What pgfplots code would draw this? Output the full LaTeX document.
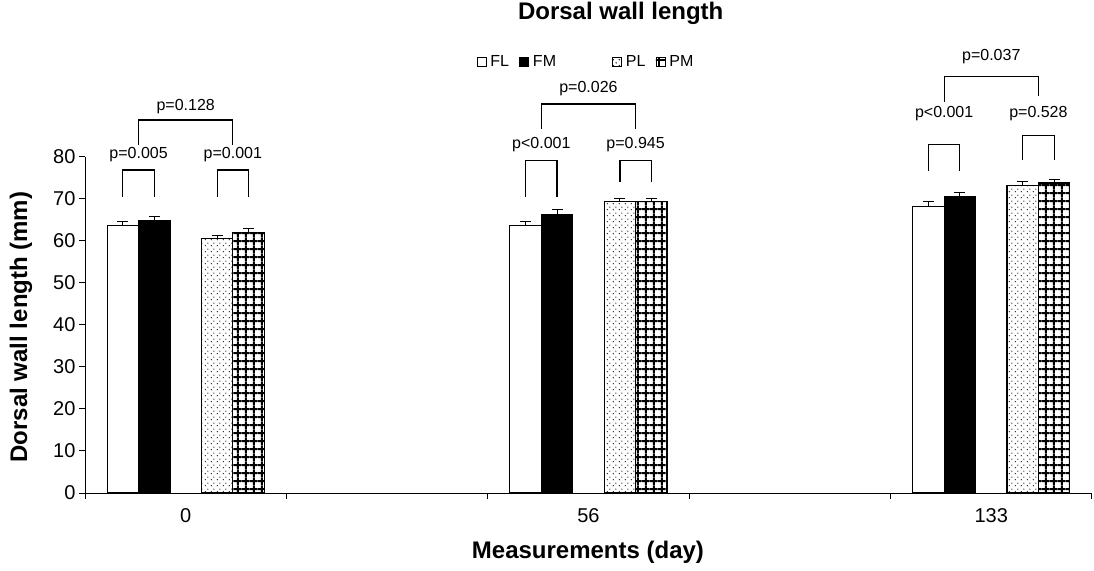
\documentclass[border=0pt]{standalone}
\usepackage{fontspec}
\setmainfont{Liberation Sans}
\usepackage{pgfplots}
\pgfplotsset{compat=1.18}
\usetikzlibrary{patterns}

\pgfdeclarepatternformonly{mydots}{\pgfpoint{0bp}{0bp}}{\pgfpoint{6bp}{6bp}}{\pgfpoint{6bp}{6bp}}{%
  \pgfpathcircle{\pgfpoint{1.5bp}{1.5bp}}{0.85bp}%
  \pgfpathcircle{\pgfpoint{4.5bp}{4.5bp}}{0.85bp}%
  \pgfusepath{fill}%
}
\pgfdeclarepatternformonly{mygrid}{\pgfpoint{0bp}{0bp}}{\pgfpoint{7.8bp}{7.8bp}}{\pgfpoint{7.8bp}{7.8bp}}{%
  \pgfsetlinewidth{2bp}%
  \pgfpathmoveto{\pgfpoint{0bp}{3.9bp}}\pgfpathlineto{\pgfpoint{7.8bp}{3.9bp}}%
  \pgfpathmoveto{\pgfpoint{3.9bp}{0bp}}\pgfpathlineto{\pgfpoint{3.9bp}{7.8bp}}%
  \pgfusepath{stroke}%
}

\newcommand\plab{\fontsize{16bp}{19bp}\selectfont}

\pgfplotsset{
  mybar/.style={ybar, bar width=0.156, bar shift=0, draw=black, line width=1.1bp,
    error bars/y dir=plus, error bars/y explicit,
    error bars/error mark=-,
    error bars/error bar style={line width=1.1bp, black},
    error bars/error mark options={rotate=90, line width=1.1bp, mark size=5.5bp, black}},
  mylegend/.style={legend image code/.code={\draw[##1, line width=0.9bp] (0bp,-4.5bp) rectangle (9bp,4.5bp);}},
}

\begin{document}
\begin{tikzpicture}
\useasboundingbox (0,0) rectangle (1094bp,571bp);
\begin{axis}[
  at={(85bp,78bp)}, anchor=south west,
  scale only axis, width=1007bp, height=336bp,
  xmin=-0.5, xmax=4.5, ymin=0, ymax=80,
  axis x line*=bottom, axis y line*=left,
  axis line style={line width=1bp, black},
  ytick={0,10,...,80},
  xtick={-0.5,0.5,1.5,2.5,3.5,4.5}, xticklabels={,,,,,},
  extra x ticks={0,2,4}, extra x tick labels={0,56,133},
  extra x tick style={major tick length=0pt, xticklabel style={yshift=-12bp}},
  tick align=outside, major tick length=6bp,
  tick style={line width=1bp, black},
  ticklabel style={font=\fontsize{20bp}{24bp}\selectfont},
  /pgf/number format/assume math mode=true,
  clip=false,
  title={Dorsal wall length},
  title style={at={(axis description cs:0.532,1.411)}, anchor=center, font=\bfseries\fontsize{24bp}{28bp}\selectfont},
  xlabel={Measurements (day)},
  xlabel style={at={(axis description cs:0.4995,-0.1756)}, anchor=center, font=\bfseries\fontsize{24bp}{28bp}\selectfont},
  ylabel={Dorsal wall length (mm)},
  ylabel style={at={(axis description cs:-0.0636,0.494)}, anchor=center, font=\bfseries\fontsize{24bp}{28bp}\selectfont},
  legend columns=4,
  legend style={at={(axis description cs:0.4975,1.283)}, anchor=center, draw=none, fill=none,
    font=\fontsize{16bp}{19bp}\selectfont,
    /tikz/every odd column/.append style={column sep=2bp},
    /tikz/every even column/.append style={column sep=8bp}},
]
\addplot[mybar, fill=white, mylegend] coordinates {
  (-0.312,63.6) +- (0,1.0)
  (1.688,63.6) +- (0,1.0)
  (3.688,68.3) +- (0,1.0)
};
\addlegendentry{FL}
\addplot[mybar, fill=black, mylegend] coordinates {
  (-0.156,64.8) +- (0,1.1)
  (1.844,66.4) +- (0,1.0)
  (3.844,70.5) +- (0,1.1)
};
\addlegendentry{FM\kern46bp}
\addplot[mybar, pattern=mydots, pattern color=black!85, mylegend] coordinates {
  (0.156,60.5) +- (0,0.8)
  (2.156,69.3) +- (0,0.9)
  (4.156,73.3) +- (0,0.9)
};
\addlegendentry{PL}
\addplot[mybar, pattern=mygrid, pattern color=black, mylegend] coordinates {
  (0.312,62.0) +- (0,0.9)
  (2.312,69.3) +- (0,0.9)
  (4.312,73.8) +- (0,0.9)
};
\addlegendentry{PM}

% group 0
\draw[line width=1.2bp] (axis cs:-0.312,70.5) |- (axis cs:-0.156,76.9) -- (axis cs:-0.156,70.5);
\draw[line width=1.2bp] (axis cs:0.156,70.5) |- (axis cs:0.312,76.9) -- (axis cs:0.312,70.5);
\draw[line width=1.2bp] (axis cs:-0.234,82.9) |- (axis cs:0.234,88.8) -- (axis cs:0.234,82.9);
\node[font=\plab] at (axis cs:-0.234,80.5) {p=0.005};
\node[font=\plab] at (axis cs:0.234,80.5) {p=0.001};
\node[font=\plab] at (axis cs:0,92.1) {p=0.128};
% group 56
\draw[line width=1.2bp] (axis cs:1.688,70.5) |- (axis cs:1.844,79.1) -- (axis cs:1.844,70.5);
\draw[line width=1.2bp] (axis cs:2.156,74.1) |- (axis cs:2.312,79.1) -- (axis cs:2.312,74.1);
\draw[line width=1.2bp] (axis cs:1.766,86.7) |- (axis cs:2.234,92.6) -- (axis cs:2.234,86.7);
\node[font=\plab] at (axis cs:1.766,82.9) {p<0.001};
\node[font=\plab] at (axis cs:2.234,82.9) {p=0.945};
\node[font=\plab] at (axis cs:2,96.4) {p=0.026};
% group 133
\draw[line width=1.2bp] (axis cs:3.688,76.7) |- (axis cs:3.844,82.9) -- (axis cs:3.844,76.7);
\draw[line width=1.2bp] (axis cs:4.156,79.3) |- (axis cs:4.312,85.2) -- (axis cs:4.312,79.3);
\draw[line width=1.2bp] (axis cs:3.766,93.2) |- (axis cs:4.234,99.1) -- (axis cs:4.234,94.6);
\node[font=\plab] at (axis cs:3.766,90.4) {p<0.001};
\node[font=\plab] at (axis cs:4.234,90.4) {p=0.528};
\node[font=\plab] at (axis cs:4,103.9) {p=0.037};
\end{axis}
\end{tikzpicture}
\end{document}
